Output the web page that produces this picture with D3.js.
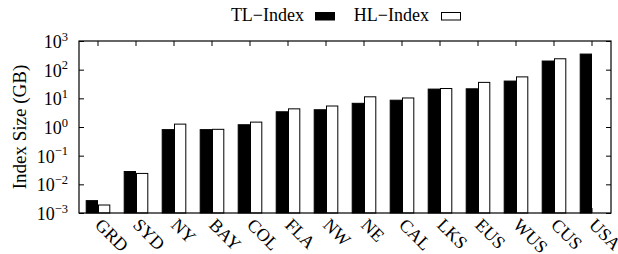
<!DOCTYPE html>
<html><head><meta charset="utf-8">
<script src="https://cdn.jsdelivr.net/npm/d3@7"></script>
<style>body{margin:0;background:#fff}svg{display:block}</style>
</head><body><svg id="c" width="618" height="254" font-family="Liberation Serif"></svg>
<script>
const categories = ["GRD","SYD","NY","BAY","COL","FLA","NW","NE","CAL","LKS","EUS","WUS","CUS","USA"];
const seriesNames = ["TL\u2212Index","HL\u2212Index"];
const tlIndex = [0.0027,0.028,0.81,0.81,1.2,3.4,4.0,6.7,8.6,21,21.5,40,200,350];
const hlIndex = [0.0019,0.024,1.26,0.83,1.48,4.3,5.4,11.3,10.3,22,36,56,240,null];
const yTickExps = [-3,-2,-1,0,1,2,3];

const FONT="Liberation Serif";
const W=618,H=254,m={l:79,r:7,t:41,b:41};
const svg=d3.select("#c");
const x=d3.scaleBand().domain(categories).range([m.l,W-m.r]).paddingInner(0).paddingOuter(0);
const y=d3.scaleLog().domain([1e-3,1e3]).range([H-m.b,m.t]);
const bw=12.3;
const series=[{name:seriesNames[0],vals:tlIndex,fill:"#000"},{name:seriesNames[1],vals:hlIndex,fill:"#fff"}];

series.forEach((s,si)=>{
  svg.append("g").selectAll("rect").data(categories.map((c,i)=>({c,v:s.vals[i]})).filter(d=>d.v!=null))
   .join("rect")
   .attr("x",d=>x(d.c)+x.bandwidth()/2-bw+si*bw+0.5)
   .attr("y",d=>y(d.v))
   .attr("width",bw-1)
   .attr("height",d=>y(1e-3)-y(d.v))
   .attr("fill",s.fill).attr("stroke","#000").attr("stroke-width",1);
});

const tv=yTickExps.map(e=>Math.pow(10,e));
svg.append("g").attr("transform",`translate(${m.l},0)`).call(d3.axisLeft(y).tickValues(tv).tickSize(-5).tickFormat(""));
svg.append("g").attr("transform",`translate(${W-m.r},0)`).call(d3.axisRight(y).tickValues(tv).tickSize(-5).tickFormat(""));
svg.append("g").attr("transform",`translate(0,${H-m.b})`).call(d3.axisBottom(x).tickSize(-5).tickFormat(""));
svg.append("g").attr("transform",`translate(0,${m.t})`).call(d3.axisTop(x).tickSize(-5).tickFormat(""));
svg.selectAll(".domain").remove();
svg.selectAll(".tick line").attr("stroke","#000");
svg.append("rect").attr("x",m.l).attr("y",m.t).attr("width",W-m.l-m.r).attr("height",H-m.t-m.b)
  .attr("fill","none").attr("stroke","#000").attr("stroke-width",1.2);

function txt(){return svg.append("text").attr("font-family",FONT).attr("fill","#000").attr("font-size",18);}
yTickExps.forEach(e=>{
  const t=txt().attr("x",68).attr("y",y(Math.pow(10,e))+7).attr("text-anchor","end");
  t.append("tspan").text("10");
  t.append("tspan").attr("dy",-7.5).attr("font-size",12.5).text(String(e).replace("-","\u2212"));
});
txt().attr("font-size",19).attr("transform",`translate(26,${(m.t+H-m.b)/2}) rotate(-90)`).attr("text-anchor","middle").text("Index Size (GB)");
categories.forEach(c=>{
  txt().attr("transform",`translate(${x(c)+x.bandwidth()/2-4},226) rotate(45)`).attr("text-anchor","start").text(c);
});
const leg=[{t:seriesNames[0],tx:304,sx:315,fill:"#000"},{t:seriesNames[1],tx:429,sx:441,fill:"#fff"}];
leg.forEach(l=>{
  txt().attr("x",l.tx).attr("y",21).attr("text-anchor","end").text(l.t);
  svg.append("rect").attr("x",l.sx+0.5).attr("y",12.5).attr("width",19).attr("height",7.5).attr("fill",l.fill).attr("stroke","#000");
});
</script></body></html>
